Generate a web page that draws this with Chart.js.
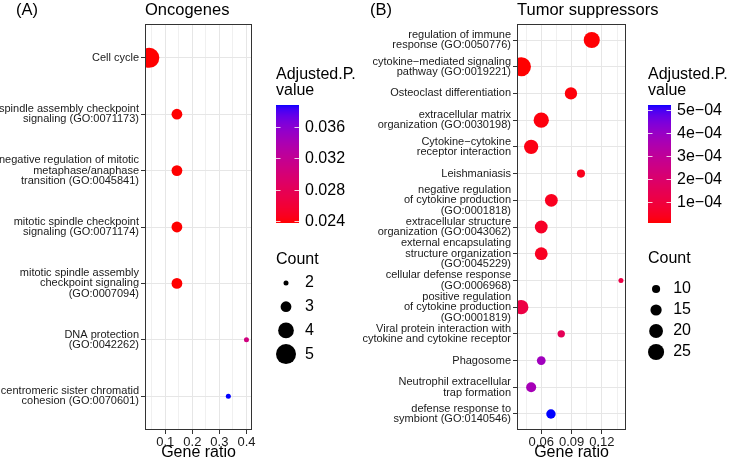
<!DOCTYPE html>
<html lang="en">
<head>
<meta charset="UTF-8">
<title>Oncogenes / Tumor suppressors enrichment</title>
<script src="https://cdn.jsdelivr.net/npm/chart.js"></script>
<style>
  body { margin: 0; background: #fff; }
  .wrap { position: relative; width: 733px; height: 461px; }
  canvas { position: absolute; left: 0; top: 0; }
</style>
</head>
<body>
<div class="wrap">
  <canvas id="onco" width="733" height="461"></canvas>
  <canvas id="tsg" width="733" height="461"></canvas>
</div>
<script>
// ---- data (A) Oncogenes ----
const oncoTerms = [
  ['Cell cycle'],
  ['spindle assembly checkpoint', 'signaling (GO:0071173)'],
  ['negative regulation of mitotic', 'metaphase/anaphase', 'transition (GO:0045841)'],
  ['mitotic spindle checkpoint', 'signaling (GO:0071174)'],
  ['mitotic spindle assembly', 'checkpoint signaling', '(GO:0007094)'],
  ['DNA protection', '(GO:0042262)'],
  ['centromeric sister chromatid', 'cohesion (GO:0070601)']
];
const oncoRatio = [0.041, 0.143, 0.143, 0.143, 0.143, 0.4, 0.333];
const oncoCount = [5, 3, 3, 3, 3, 2, 2];
const oncoPadj = [0.0238, 0.0238, 0.0238, 0.0238, 0.0238, 0.0306, 0.0388];
const oncoMajor = [0.1, 0.2, 0.3, 0.4];
const oncoMajorLabels = ['0.1', '0.2', '0.3', '0.4'];
const oncoMinor = [0.05, 0.15, 0.25, 0.35];
const oncoPBreaks = [0.024, 0.028, 0.032, 0.036];
const oncoPLabels = ['0.024', '0.028', '0.032', '0.036'];
const oncoCountBreaks = [2, 3, 4, 5];

// ---- data (B) Tumor suppressors ----
const tsgTerms = [
  ['regulation of immune', 'response (GO:0050776)'],
  ['cytokine\u2212mediated signaling', 'pathway (GO:0019221)'],
  ['Osteoclast differentiation'],
  ['extracellular matrix', 'organization (GO:0030198)'],
  ['Cytokine\u2212cytokine', 'receptor interaction'],
  ['Leishmaniasis'],
  ['negative regulation', 'of cytokine production', '(GO:0001818)'],
  ['extracellular structure', 'organization (GO:0043062)'],
  ['external encapsulating', 'structure organization', '(GO:0045229)'],
  ['cellular defense response', '(GO:0006968)'],
  ['positive regulation', 'of cytokine production', '(GO:0001819)'],
  ['Viral protein interaction with', 'cytokine and cytokine receptor'],
  ['Phagosome'],
  ['Neutrophil extracellular', 'trap formation'],
  ['defense response to', 'symbiont (GO:0140546)']
];
const tsgRatio = [0.110, 0.0404, 0.0894, 0.060, 0.050, 0.0993, 0.070, 0.060, 0.060, 0.1389, 0.0402, 0.0798, 0.060, 0.050, 0.0696];
const tsgCount = [25, 32, 17, 23, 21, 10, 18, 18, 18, 6, 21, 9, 11, 13, 12];
const tsgPadj = [1.0e-5, 7e-6, 1.5e-5, 1.8e-5, 2.4e-5, 3.5e-5, 3.9e-5, 5.2e-5, 4.5e-5, 1.15e-4, 1.1e-4, 1.5e-4, 3.8e-4, 3.66e-4, 5.2e-4];
const tsgMajor = [0.06, 0.09, 0.12];
const tsgMajorLabels = ['0.06', '0.09', '0.12'];
const tsgMinor = [0.045, 0.075, 0.105, 0.135];
const tsgPBreaks = [1e-4, 2e-4, 3e-4, 4e-4, 5e-4];
const tsgPLabels = ['1e\u221204', '2e\u221204', '3e\u221204', '4e\u221204', '5e\u221204'];
const tsgCountBreaks = [10, 15, 20, 25];

const FONT = "'Liberation Sans', Arial, Helvetica, sans-serif";
Chart.defaults.font.family = FONT;

// red -> blue gradient interpolated in CIELAB (like ggplot's scale_colour_gradient)
function toLab(rgb) {
  const lin = rgb.map(c => { c /= 255; return c <= 0.04045 ? c / 12.92 : Math.pow((c + 0.055) / 1.055, 2.4); });
  const X = (0.4124564 * lin[0] + 0.3575761 * lin[1] + 0.1804375 * lin[2]) / 0.95047;
  const Y = 0.2126729 * lin[0] + 0.7151522 * lin[1] + 0.0721750 * lin[2];
  const Z = (0.0193339 * lin[0] + 0.1191920 * lin[1] + 0.9503041 * lin[2]) / 1.08883;
  const f = t => t > 0.008856 ? Math.cbrt(t) : 7.787 * t + 16 / 116;
  const fx = f(X), fy = f(Y), fz = f(Z);
  return [116 * fy - 16, 500 * (fx - fy), 200 * (fy - fz)];
}
function fromLab(lab) {
  const fy = (lab[0] + 16) / 116, fx = fy + lab[1] / 500, fz = fy - lab[2] / 200;
  const inv = t => t * t * t > 0.008856 ? t * t * t : (t - 16 / 116) / 7.787;
  const X = inv(fx) * 0.95047, Y = inv(fy), Z = inv(fz) * 1.08883;
  const r = 3.2404542 * X - 1.5371385 * Y - 0.4985314 * Z;
  const g = -0.9692660 * X + 1.8760108 * Y + 0.0415560 * Z;
  const b = 0.0556434 * X - 0.2040259 * Y + 1.0572252 * Z;
  return [r, g, b].map(c => {
    c = c <= 0.0031308 ? 12.92 * c : 1.055 * Math.pow(c, 1 / 2.4) - 0.055;
    return Math.round(Math.min(1, Math.max(0, c)) * 255);
  });
}
const LOW = toLab([255, 0, 0]), HIGH = toLab([0, 0, 255]);
function ramp(t) {
  t = Math.min(1, Math.max(0, t));
  const c = fromLab(LOW.map((v, i) => v + (HIGH[i] - v) * t));
  return 'rgb(' + c.join(',') + ')';
}

// bubble diameter linear in sqrt(count); returns radius
function sizeScale(cmin, cmax, dmin, dmax) {
  const a = Math.sqrt(cmin), b = Math.sqrt(cmax);
  return c => (dmin + (Math.sqrt(c) - a) / (b - a) * (dmax - dmin)) / 2;
}

function decor(o) {
  return {
    id: 'decor',
    afterDatasetsDraw(chart) {
      const ctx = chart.ctx, a = chart.chartArea;
      ctx.save();
      ctx.strokeStyle = '#333333';
      ctx.lineWidth = 1;
      ctx.strokeRect(a.left + 0.5, a.top + 0.5, a.right - a.left - 1, a.bottom - a.top - 1);
      ctx.restore();
    },
    afterDraw(chart) {
      const ctx = chart.ctx, a = chart.chartArea;
      ctx.save();
      ctx.fillStyle = '#000';
      ctx.textAlign = 'left';
      ctx.textBaseline = 'alphabetic';
      ctx.font = '16.5px ' + FONT;
      ctx.fillText(o.tag, o.tagX, 15);
      ctx.fillText(o.title, a.left, 15);

      // colour bar
      const lx = o.legendX, top = 105, bot = 223, bw = 23;
      ctx.font = '16px ' + FONT;
      ctx.fillText('Adjusted.P.', lx, 79);
      ctx.fillText('value', lx, 95);
      for (let y = top; y < bot; y++) {
        ctx.fillStyle = ramp((bot - y - 0.5) / (bot - top));
        ctx.fillRect(lx, y, bw, 1);
      }
      ctx.textBaseline = 'middle';
      o.pBreaks.forEach((v, i) => {
        const y = Math.round(bot - (v - o.pmin) / (o.pmax - o.pmin) * (bot - top)) + 0.5;
        ctx.strokeStyle = 'rgba(255,255,255,0.8)';
        ctx.lineWidth = 1;
        ctx.beginPath();
        ctx.moveTo(lx, y); ctx.lineTo(lx + 4.5, y);
        ctx.moveTo(lx + bw - 4.5, y); ctx.lineTo(lx + bw, y);
        ctx.stroke();
        ctx.fillStyle = '#000';
        ctx.fillText(o.pLabels[i], lx + bw + 6, y);
      });

      // size legend
      ctx.textBaseline = 'alphabetic';
      ctx.fillText('Count', lx, o.countY);
      ctx.textBaseline = 'middle';
      const maxD = o.rScale(o.countBreaks[o.countBreaks.length - 1]) * 2;
      o.countBreaks.forEach((c, i) => {
        const y = o.keyY0 + i * o.keyStep;
        ctx.fillStyle = '#000';
        ctx.beginPath();
        ctx.arc(lx + maxD / 2, y, o.rScale(c), 0, Math.PI * 2);
        ctx.fill();
        ctx.fillText(String(c), lx + maxD + 9, y);
      });
      ctx.restore();
    }
  };
}

function makeChart(id, s) {
  const pmin = Math.min(...s.padj), pmax = Math.max(...s.padj);
  const xTicks = s.minor.map(v => ({ value: v, lbl: '' }))
    .concat(s.major.map((v, i) => ({ value: v, lbl: s.majorLabels[i] })))
    .sort((p, q) => p.value - q.value);
  const n = s.terms.length;
  return new Chart(document.getElementById(id), {
    type: 'bubble',
    data: {
      datasets: [{
        data: s.ratio.map((x, i) => ({ x: x, y: i, r: s.rScale(s.count[i]) })),
        backgroundColor: s.padj.map(p => ramp((p - pmin) / (pmax - pmin))),
        borderWidth: 0,
        hoverBorderWidth: 0,
        clip: 0
      }]
    },
    options: {
      responsive: false,
      animation: false,
      events: [],
      layout: { padding: { left: 0, top: s.area.top, right: 733 - s.area.right, bottom: 0 } },
      plugins: { legend: { display: false }, tooltip: { enabled: false } },
      scales: {
        x: {
          type: 'linear',
          min: s.xmin, max: s.xmax,
          afterBuildTicks: sc => { sc.ticks = xTicks.map(t => ({ ...t })); },
          afterFit: sc => { sc.height = 461 - s.area.bottom; },
          border: { display: false },
          grid: {
            color: c => (c.tick && c.tick.lbl) ? '#E6E6E6' : '#ECECEC',
            lineWidth: c => (c.tick && c.tick.lbl) ? 1 : 0.8,
            tickColor: c => (c.tick && c.tick.lbl) ? '#333333' : 'rgba(0,0,0,0)',
            tickLength: 4
          },
          ticks: {
            autoSkip: false, maxRotation: 0, minRotation: 0, padding: 1,
            color: '#1a1a1a', font: { size: 13 },
            callback: (v, i, t) => t[i].lbl || ''
          },
          title: {
            display: true, text: 'Gene ratio', color: '#000',
            font: { size: 16, lineHeight: 1.1 }, padding: { top: 0, bottom: 0 }
          }
        },
        y: {
          type: 'linear',
          reverse: true,
          min: -0.6, max: n - 0.4,
          afterBuildTicks: sc => { sc.ticks = s.terms.map((_, i) => ({ value: i })); },
          afterFit: sc => { sc.width = s.area.left; },
          border: { display: false },
          grid: { color: '#E6E6E6', lineWidth: 1, tickColor: '#333333', tickLength: 4 },
          ticks: {
            autoSkip: false, padding: 2, color: '#1a1a1a',
            font: { size: 11, lineHeight: 0.95 },
            callback: v => s.terms[v]
          }
        }
      }
    },
    plugins: [decor({
      tag: s.tag, tagX: s.tagX, title: s.title, legendX: s.legendX,
      pmin: pmin, pmax: pmax, pBreaks: s.pBreaks, pLabels: s.pLabels,
      countBreaks: s.countBreaks, rScale: s.rScale,
      countY: s.countY, keyY0: s.keyY0, keyStep: s.keyStep
    })]
  });
}

makeChart('onco', {
  terms: oncoTerms, ratio: oncoRatio, count: oncoCount, padj: oncoPadj,
  major: oncoMajor, majorLabels: oncoMajorLabels, minor: oncoMinor,
  xmin: 0.025, xmax: 0.4205,
  area: { left: 145, top: 24, right: 252, bottom: 430 },
  rScale: sizeScale(2, 5, 5, 20),
  tag: '(A)', tagX: 16, title: 'Oncogenes', legendX: 276,
  pBreaks: oncoPBreaks, pLabels: oncoPLabels, countBreaks: oncoCountBreaks,
  countY: 264, keyY0: 283, keyStep: 23.7
});

makeChart('tsg', {
  terms: tsgTerms, ratio: tsgRatio, count: tsgCount, padj: tsgPadj,
  major: tsgMajor, majorLabels: tsgMajorLabels, minor: tsgMinor,
  xmin: 0.036, xmax: 0.1439,
  area: { left: 517, top: 24, right: 626, bottom: 430 },
  rScale: sizeScale(6, 32, 5, 19),
  tag: '(B)', tagX: 370, title: 'Tumor suppressors', legendX: 648,
  pBreaks: tsgPBreaks, pLabels: tsgPLabels, countBreaks: tsgCountBreaks,
  countY: 263, keyY0: 289, keyStep: 21
});
</script>
</body>
</html>
